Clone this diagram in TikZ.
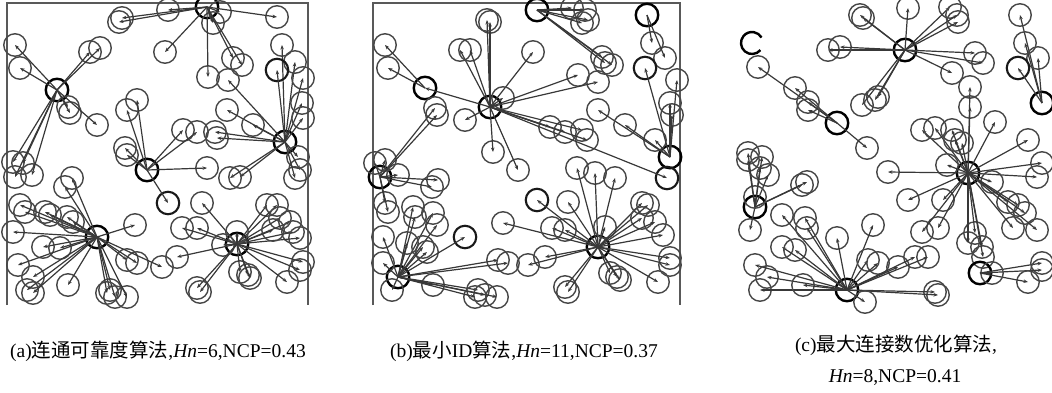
\documentclass[tikz,border=0pt]{standalone}
\usepackage{fontspec}
\setmainfont{Liberation Serif}
\newfontfamily\cjk{Noto Sans CJK SC}
\usetikzlibrary{arrows.meta}

\tikzset{
  mem/.style={circle, draw=black!72, line width=1.4pt, minimum size=22.5pt, inner sep=0pt},
  hd/.style={mem, draw=black, line width=2.4pt},
  bmem/.style={mem, draw=black!90, line width=2.1pt},
  lk/.style={draw=black!78, line width=1.2pt, -{Stealth[length=4.5pt,width=3.5pt]}},
  frm/.style={draw=black!65, line width=1.9pt},
  captxt/.style={font=\fontsize{19.5}{22}\selectfont, inner sep=0pt}
}

\begin{document}
\begin{tikzpicture}[x=1pt,y=-1pt]
\useasboundingbox (0,0) rectangle (1052,392);

%Frames (a) and (b), open at the bottom
\draw[frm] (7,305) -- (7,3) -- (308,3) -- (308,305);
\draw[frm] (373,305) -- (373,3) -- (680,3) -- (680,305);

%%%%%%%%%%%%%%%% (a) %%%%%%%%%%%%%%%%
% head A1
\node[hd] (A1) at (207,7) {};
\foreach \x/\y [count=\i] in {122/18,119/22,168/10,220/12,213/23,277/17,165/52,208/77,233/58,242/65}{
  \node[mem] (A1m\i) at (\x,\y) {};
  \draw[lk] (A1.center) -- (A1m\i.center);
}
% head A2
\node[hd] (A2) at (57,90) {};
\foreach \x/\y [count=\i] in {15/45,20/68,90/52,100/48,68/107,70/113,97/125,13/162,23/163,32/175,15/177}{
  \node[mem] (A2m\i) at (\x,\y) {};
  \draw[lk] (A2.center) -- (A2m\i.center);
}
% head A3
\node[hd] (A3) at (285,142) {};
\foreach \x/\y [count=\i] in {282/45,295/62,303/78,302/103,303/118,228/80,227/110,253/125,217/138,215/132,298/157,300/170,295/178,240/177,230/178}{
  \node[mem] (A3m\i) at (\x,\y) {};
  \draw[lk] (A3.center) -- (A3m\i.center);
}
\node[bmem] (A3b) at (277,70) {};
\draw[lk] (A3.center) -- (A3b.center);
% head A4
\node[hd] (A4) at (147,170) {};
\foreach \x/\y [count=\i] in {127/110,137/100,125/148,183/130,197/132,207/168,127/155}{
  \node[mem] (A4m\i) at (\x,\y) {};
  \draw[lk] (A4.center) -- (A4m\i.center);
}
\node[bmem] (A4b) at (168,203) {};
\draw[lk] (A4.center) -- (A4b.center);
% head A5
\node[hd] (A5) at (97,237) {};
\foreach \x/\y [count=\i] in {72/178,65/187,20/205,25/212,45/212,50/215,67/217,73/222,13/232,135/225,43/247,60/248,18/265,33/277,27/290,33/293,68/285,110/290,115/297,127/297,107/293,127/260,137/263,162/267}{
  \node[mem] (A5m\i) at (\x,\y) {};
  \draw[lk] (A5.center) -- (A5m\i.center);
}
% head A6
\node[hd] (A6) at (237,244) {};
\foreach \x/\y [count=\i] in {202/203,182/228,197/228,267/205,277/205,280/218,290/222,293/232,300/238,273/230,237/232,223/245,303/262,300/270,287/282,240/272,248/275,250/278,197/288,200/292,177/257}{
  \node[mem] (A6m\i) at (\x,\y) {};
  \draw[lk] (A6.center) -- (A6m\i.center);
}

%%%%%%%%%%%%%%%% (b) %%%%%%%%%%%%%%%%
% head B1
\node[hd] (B1) at (490,107) {};
\foreach \x/\y [count=\i] in {490/22,487/20,460/50,470/50,533/52,503/98,465/120,493/152,518/170,578/75,598/82,550/127,565/132,582/130,587/140}{
  \node[mem] (B1m\i) at (\x,\y) {};
  \draw[lk] (B1.center) -- (B1m\i.center);
}
% head B2
\node[hd] (B2) at (425,88) {};
\foreach \x/\y [count=\i] in {385/45,388/68}{
  \node[mem] (B2m\i) at (\x,\y) {};
  \draw[lk] (B2.center) -- (B2m\i.center);
}
\draw[lk] (B1.center) -- (B2.center);
% head B3
\node[hd] (B3) at (537,10) {};
\foreach \x/\y [count=\i] in {572/8,585/10,588/20,582/23,602/57,612/65,605/63}{
  \node[mem] (B3m\i) at (\x,\y) {};
  \draw[lk] (B3.center) -- (B3m\i.center);
}
% head B4
\node[hd] (B4) at (647,15) {};
\foreach \x/\y [count=\i] in {652/43,665/58}{
  \node[mem] (B4m\i) at (\x,\y) {};
  \draw[lk] (B4.center) -- (B4m\i.center);
}
% head B6
\node[hd] (B6) at (670,157) {};
\foreach \x/\y [count=\i] in {670/103,672/115,655/140,598/110,625/125,677/80}{
  \node[mem] (B6m\i) at (\x,\y) {};
  \draw[lk] (B6.center) -- (B6m\i.center);
}
\node[bmem] (B6b) at (645,68) {};
\draw[lk] (B6.center) -- (B6b.center);
\node[bmem] (B6c) at (667,178) {};
\draw[lk] (B1.center) -- (B6c.center);
% head B8
\node[hd] (B8) at (380,177) {};
\foreach \x/\y [count=\i] in {385/160,375/163,398/175,438/180,432/187,385/203,388/212,435/108,437/115}{
  \node[mem] (B8m\i) at (\x,\y) {};
  \draw[lk] (B8.center) -- (B8m\i.center);
}
% head B9
\node[hd] (B9) at (398,277) {};
\foreach \x/\y [count=\i] in {413/207,415/217,433/213,437/225,383/237,407/243,427/252,423/247,383/263,392/290,433/285,478/290,485/295,497/297,475/297,498/260,508/263}{
  \node[mem] (B9m\i) at (\x,\y) {};
  \draw[lk] (B9.center) -- (B9m\i.center);
}
\node[bmem] (B9b) at (465,237) {};
\draw[lk] (B9.center) -- (B9b.center);
% head B7
\node[hd] (B7) at (598,247) {};
\foreach \x/\y [count=\i] in {577/168,595/173,615/178,568/202,503/223,552/228,565/230,605/227,642/203,648/205,642/218,655/222,663/235,670/258,670/265,658/282,610/273,617/277,620/280,565/287,568/292,545/257,528/265}{
  \node[mem] (B7m\i) at (\x,\y) {};
  \draw[lk] (B7.center) -- (B7m\i.center);
}
\node[bmem] (B7b) at (537,200) {};
\draw[lk] (B7.center) -- (B7b.center);

%%%%%%%%%%%%%%%% (c) %%%%%%%%%%%%%%%%
% open bold circle at the left edge
\draw[black, line width=2.4pt] (752,43) ++(40:11) arc[start angle=40, end angle=330, radius=11];
% head C1
\node[hd] (C1) at (905,50) {};
\foreach \x/\y [count=\i] in {908/8,860/15,863/18,950/7,957/15,958/22,828/50,840/47,975/53,983/63,952/73,862/105,875/100,878/97}{
  \node[mem] (C1m\i) at (\x,\y) {};
  \draw[lk] (C1.center) -- (C1m\i.center);
}
% head C2
\node[hd] (C2) at (837,123) {};
\foreach \x/\y [count=\i] in {758/67,795/88,808/102,808/110,867/148}{
  \node[mem] (C2m\i) at (\x,\y) {};
  \draw[lk] (C2.center) -- (C2m\i.center);
}
% head C7
\node[hd] (C7) at (1042,103) {};
\foreach \x/\y [count=\i] in {1020/15,1025/43,1038/58}{
  \node[mem] (C7m\i) at (\x,\y) {};
  \draw[lk] (C7.center) -- (C7m\i.center);
}
\node[bmem] (C7b) at (1018,68) {};
\draw[lk] (C7.center) -- (C7b.center);
% head C3
\node[hd] (C3) at (968,173) {};
\foreach \x/\y [count=\i] in {970/87,970/107,995/122,1028/140,922/130,935/128,952/130,955/140,962/143,947/165,888/172,908/200,943/200,1042/163,1037/177,992/182,1008/202,1018/205,1025/213,1013/228,1037/230,975/233,968/243,982/247,983/257,938/228,922/232}{
  \node[mem] (C3m\i) at (\x,\y) {};
  \draw[lk] (C3.center) -- (C3m\i.center);
}
% head C4
\node[hd] (C4) at (847,290) {};
\foreach \x/\y [count=\i] in {755/265,767/277,760/290,803/285,782/247,795/250,782/215,805/218,807/228,837/238,873/225,868/260,878/263,898/267,915/257,928/257,935/292,938/295,865/302}{
  \node[mem] (C4m\i) at (\x,\y) {};
  \draw[lk] (C4.center) -- (C4m\i.center);
}
% head C5
\node[hd] (C5) at (755,207) {};
\foreach \x/\y [count=\i] in {748/160,760/168,768/175,807/182,802/185,750/230,755/197,748/153,762/157}{
  \node[mem] (C5m\i) at (\x,\y) {};
  \draw[lk] (C5.center) -- (C5m\i.center);
}
% head C8
\node[hd] (C8) at (980,273) {};
\foreach \x/\y [count=\i] in {1042/263,1042/270,1028/282,992/273}{
  \node[mem] (C8m\i) at (\x,\y) {};
  \draw[lk] (C8.center) -- (C8m\i.center);
}

% captions
\node[captxt] (capa) at (158,351) {(a){\cjk 连通可靠度算法},\textit{Hn}=6,NCP=0.43};
\node[captxt] (capb) at (524,351) {(b){\cjk 最小}ID{\cjk 算法},\textit{Hn}=11,NCP=0.37};
\node[captxt] (capc) at (896,345) {(c){\cjk 最大连接数优化算法},};
\node[captxt] (capd) at (895,378) {\textit{Hn}=8,NCP=0.41};

\end{tikzpicture}
\end{document}
